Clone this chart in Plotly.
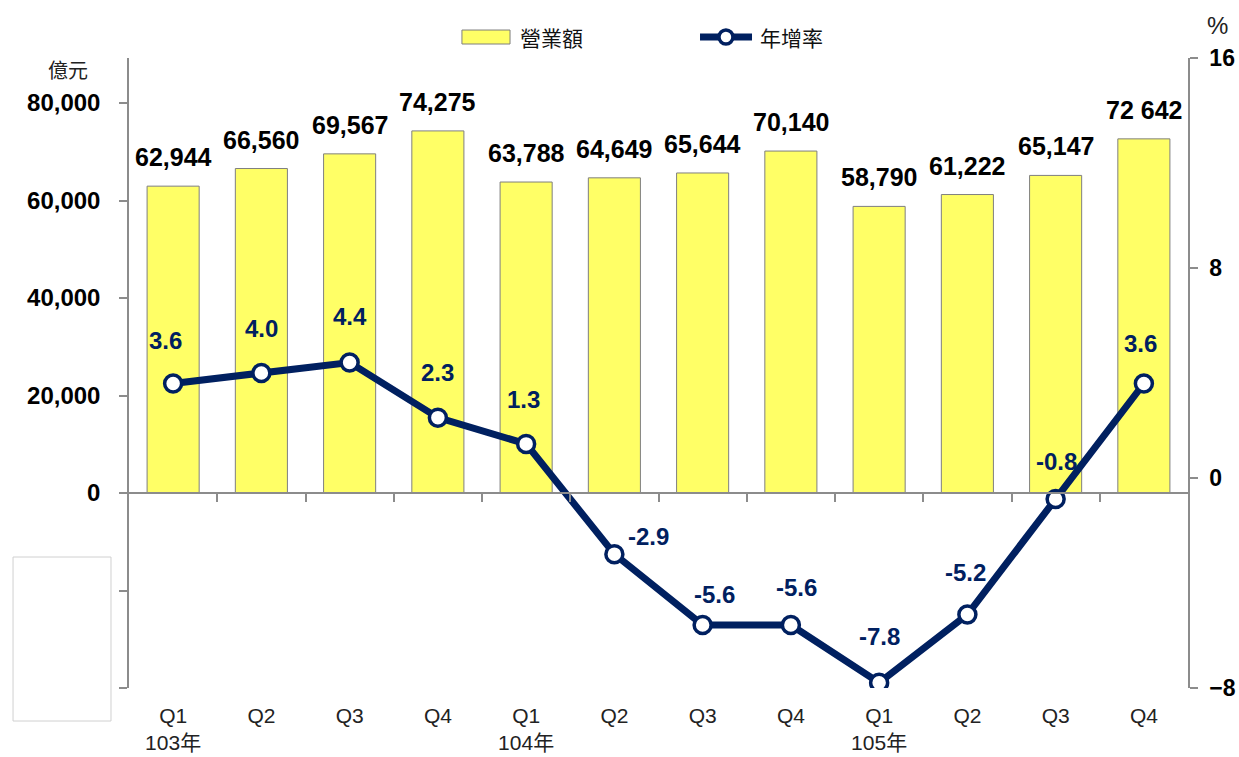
import plotly.graph_objects as go

quarters = ["Q1", "Q2", "Q3", "Q4", "Q1", "Q2", "Q3", "Q4", "Q1", "Q2", "Q3", "Q4"]
years = ["103年", "", "", "", "104年", "", "", "", "105年", "", "", ""]
revenue = [62944, 66560, 69567, 74275, 63788, 64649, 65644, 70140, 58790, 61222, 65147, 72642]
revenue_labels = ["62,944", "66,560", "69,567", "74,275", "63,788", "64,649", "65,644",
                  "70,140", "58,790", "61,222", "65,147", "72 642"]
growth = [3.6, 4.0, 4.4, 2.3, 1.3, -2.9, -5.6, -5.6, -7.8, -5.2, -0.8, 3.6]
growth_label_shift = [(-8, 43), (0, 45), (0, 46), (0, 45), (-3, 44), (34, 18),
                      (12, 31), (6, 38), (0, 46), (-2, 42), (1, 38), (-3, 40)]

left_ticks = [-40000, -20000, 0, 20000, 40000, 60000, 80000]
right_ticks = [-8, 0, 8, 16]
y1_range = [-40000, 89230]
y2_range = [-8, 16]

NAVY = "#002060"
YELLOW = "#FFFF66"
AXIS = "#8c8c8c"
NUMFONT = "Arial, Liberation Sans, sans-serif"
CJK = "Noto Sans CJK TC, sans-serif"

x = list(range(len(quarters)))
ticktext = [q + ("<br>" + y if y else "<br> ") for q, y in zip(quarters, years)]

fig = go.Figure()
fig.add_trace(go.Bar(
    x=x, y=revenue, xaxis="x", yaxis="y",
    marker=dict(color=YELLOW, line=dict(color="#7f7f7f", width=1)),
    showlegend=False, hoverinfo="skip",
))
fig.add_trace(go.Scatter(
    x=x, y=growth, xaxis="x2", yaxis="y2", mode="lines+markers",
    line=dict(color=NAVY, width=7),
    marker=dict(symbol="circle", size=17, color="white", line=dict(color=NAVY, width=3.5)),
    showlegend=False, hoverinfo="skip",
))

annotations = []
for xi, v, lab in zip(x, revenue, revenue_labels):
    annotations.append(dict(x=xi, y=v, xref="x", yref="y", text=lab, showarrow=False,
                            yanchor="bottom", yshift=13,
                            font=dict(family=NUMFONT, size=25, color="black", weight="bold")))
for xi, v, (dx, dy) in zip(x, growth, growth_label_shift):
    annotations.append(dict(x=xi, y=v, xref="x2", yref="y2", text=f"{v:.1f}", showarrow=False,
                            xshift=dx, yshift=dy, yanchor="middle",
                            font=dict(family=NUMFONT, size=24, color=NAVY, weight="bold")))

annotations += [
    dict(x=-0.0576, y=0.981, xref="paper", yref="paper", text="億元", showarrow=False,
         xanchor="center", yanchor="middle",
         font=dict(family=CJK, size=20, color="#222")),
    dict(x=1.028, y=1.052, xref="paper", yref="paper", text="%", showarrow=False,
         xanchor="center", yanchor="middle",
         font=dict(family=NUMFONT, size=24, color="#222")),
    dict(x=0.3673, y=1.0333, xref="paper", yref="paper", text="營業額", showarrow=False,
         xanchor="left", yanchor="middle", font=dict(family=CJK, size=21, color="#111")),
    dict(x=0.594, y=1.0333, xref="paper", yref="paper", text="年增率", showarrow=False,
         xanchor="left", yanchor="middle", font=dict(family=CJK, size=21, color="#111")),
]

shapes = [
    # legend: bar swatch
    dict(type="rect", xref="paper", yref="paper", x0=0.3144, x1=0.3598, y0=1.0222, y1=1.0444,
         fillcolor=YELLOW, line=dict(color="#7f7f7f", width=1)),
    # legend: line swatch
    dict(type="line", xref="paper", yref="paper", x0=0.5392, x1=0.5883, y0=1.0333, y1=1.0333,
         line=dict(color=NAVY, width=7)),
    dict(type="circle", xref="paper", yref="paper", xsizemode="pixel", ysizemode="pixel",
         xanchor=0.5637, yanchor=1.0333, x0=-7, x1=7, y0=-7, y1=7,
         fillcolor="white", line=dict(color=NAVY, width=3.5)),
    # blank box over negative axis labels
    dict(type="rect", xref="paper", yref="paper", x0=-0.1095, x1=-0.017, y0=-0.0524, y1=0.2079,
         fillcolor="white", line=dict(color="#d0d0d0", width=1)),
]

zero_pos = (0 - y1_range[0]) / (y1_range[1] - y1_range[0])

fig.update_layout(
    width=1239, height=757,
    margin=dict(l=129, r=51, t=58, b=69, autoexpand=False),
    paper_bgcolor="white", plot_bgcolor="white",
    bargap=0.41,
    showlegend=False,
    annotations=annotations,
    shapes=shapes,
    xaxis=dict(range=[-0.5, len(x) - 0.5], anchor="free", position=zero_pos,
               showline=True, linecolor=AXIS, linewidth=1.5, automargin=False,
               tickvals=[i + 0.5 for i in x[:-1]], ticks="outside", ticklen=8,
               tickcolor=AXIS, tickwidth=1.5, showticklabels=False, showgrid=False,
               zeroline=False),
    xaxis2=dict(overlaying="x", matches="x", anchor="y", side="bottom", automargin=False,
                tickvals=x, ticktext=ticktext, ticks="", showline=False, showgrid=False,
                zeroline=False, ticklabelstandoff=13,
                tickfont=dict(family="Arial, Liberation Sans, Noto Sans CJK TC", size=21, color="#222")),
    yaxis=dict(range=y1_range, tickvals=left_ticks, automargin=False,
               ticktext=[f"{v:,}" if v >= 0 else "" for v in left_ticks],
               showline=True, linecolor=AXIS, linewidth=1.5, ticks="outside", ticklen=8,
               tickcolor=AXIS, tickwidth=1.5, showgrid=False, zeroline=False,
               ticklabelstandoff=14,
               tickfont=dict(family=NUMFONT, size=24, color="black", weight="bold")),
    yaxis2=dict(range=y2_range, tickvals=right_ticks, overlaying="y", side="right", anchor="x2",
                automargin=False,
                showline=True, linecolor=AXIS, linewidth=1.5, ticks="outside", ticklen=8,
                tickcolor=AXIS, tickwidth=1.5, showgrid=False, zeroline=False,
                ticklabelstandoff=7,
                tickfont=dict(family=NUMFONT, size=23, color="black", weight="bold")),
)

fig.write_html(
    "out.html",
    config={"displayModeBar": False},
    post_script="document.body.style.margin='0';document.body.style.overflow='hidden';",
)
